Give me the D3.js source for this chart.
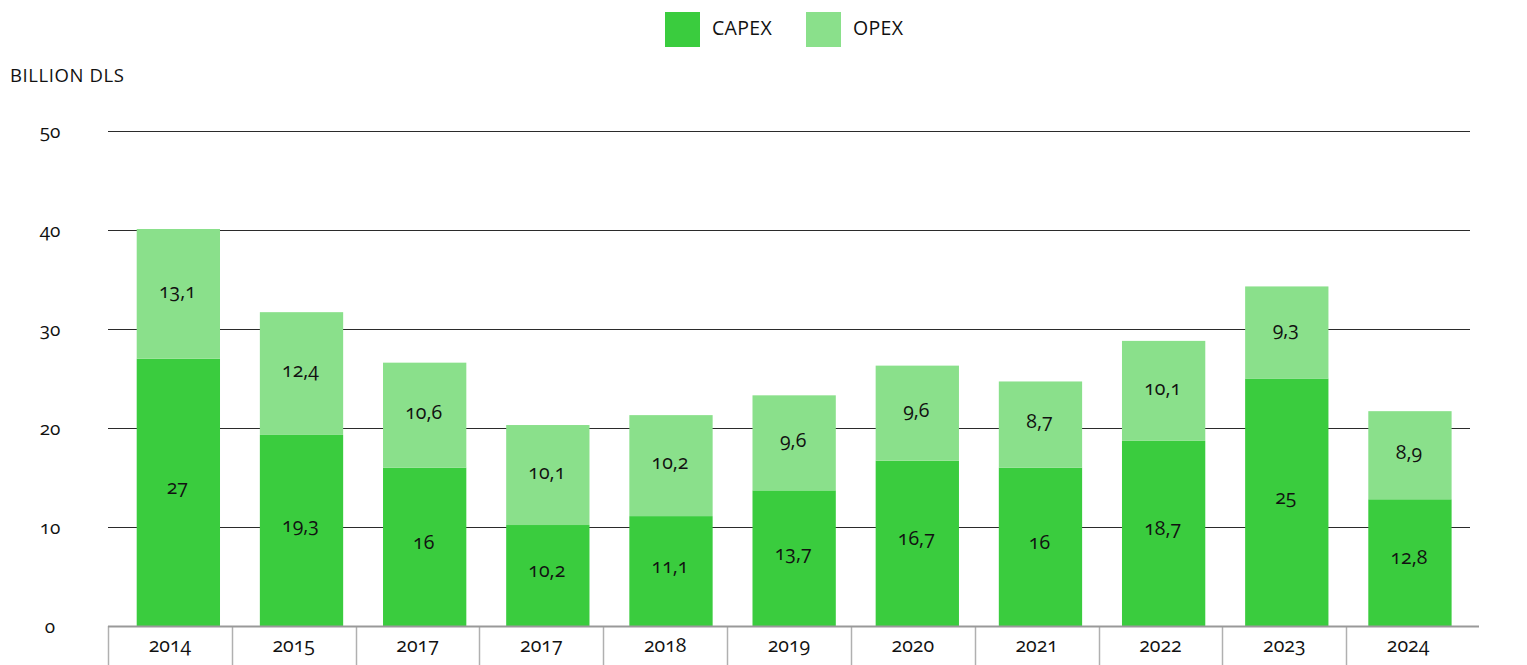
<!DOCTYPE html>
<html>
<head>
<meta charset="utf-8">
<script src="https://cdnjs.cloudflare.com/ajax/libs/d3/7.8.5/d3.min.js"></script>
<style>
	body { margin: 0; background: #fff; }
	svg text { font-family: "Open Sans", Lato, sans-serif; fill: #111; font-variant-numeric: oldstyle-nums; }
</style>
</head>
<body>
<div id="chart"></div>
<script>
const years = ['2014', '2015', '2017', '2017', '2018', '2019', '2020', '2021', '2022', '2023', '2024'];
const capex = [27, 19.3, 16, 10.2, 11.1, 13.7, 16.7, 16, 18.7, 25, 12.8];
const opex = [13.1, 12.4, 10.6, 10.1, 10.2, 9.6, 9.6, 8.7, 10.1, 9.3, 8.9];
const yTicks = [0, 10, 20, 30, 40, 50];
const seriesNames = ['CAPEX', 'OPEX'];

const width = 1527,
	height = 665;

const colors = {
	CAPEX: '#3acc3e',
	OPEX: '#8ae08b'
};

// label nudge per series (px)
const labelShift = {
	CAPEX: -5,
	OPEX: -3
};

const fmt = v => String(v).replace('.', ',');

const svg = d3.select('#chart').append('svg')
	.attr('width', width)
	.attr('height', height);

// bars sit on their own band scale, category cells on another
const x = d3.scaleBand()
	.domain(years.map((d, i) => i))
	.range([136.7, 1451.6])
	.paddingInner(0.3236)
	.paddingOuter(0);

const cells = d3.scaleBand()
	.domain(years.map((d, i) => i))
	.range([108, 1470]);

const y = d3.scaleLinear()
	.domain([0, 50])
	.range([626, 131]);

// gridlines
svg.append('g').selectAll('line')
	.data(yTicks.filter(d => d > 0))
	.join('line')
	.attr('x1', 108)
	.attr('x2', 1470)
	.attr('y1', d => Math.round(y(d)) + 0.5)
	.attr('y2', d => Math.round(y(d)) + 0.5)
	.attr('stroke', '#2b2b2b')
	.attr('stroke-width', 1);

// y tick labels
svg.append('g').selectAll('text')
	.data(yTicks)
	.join('text')
	.attr('x', 50)
	.attr('y', d => y(d))
	.attr('dy', '0.35em')
	.attr('text-anchor', 'middle')
	.style('font-size', '19px')
	.text(d => d);

svg.append('text')
	.attr('x', 10)
	.attr('y', 82)
	.style('font-size', '18.5px')
	.style('letter-spacing', '0.6px')
	.text('BILLION DLS');

// stacked data
const rows = years.map((yr, i) => ({ i, CAPEX: capex[i], OPEX: opex[i] }));
const stacked = d3.stack().keys(seriesNames)(rows);

const layer = svg.append('g').selectAll('g')
	.data(stacked)
	.join('g')
	.attr('fill', d => colors[d.key]);

layer.selectAll('rect')
	.data(d => d)
	.join('rect')
	.attr('x', d => x(d.data.i))
	.attr('width', x.bandwidth())
	.attr('y', d => y(d[1]))
	.attr('height', d => y(d[0]) - y(d[1]));

// value labels
stacked.forEach(s => {
	svg.append('g').selectAll('text')
		.data(s)
		.join('text')
		.attr('x', d => x(d.data.i) + x.bandwidth() / 2 - 1)
		.attr('y', d => (y(d[0]) + y(d[1])) / 2 + labelShift[s.key])
		.attr('dy', '0.35em')
		.attr('text-anchor', 'middle')
		.style('font-size', '19.5px')
		.text(d => fmt(d.data[s.key]));
});

// x axis with cell separators
const axisG = svg.append('g');
axisG.selectAll('line.sep')
	.data(years.map((d, i) => i))
	.join('line')
	.attr('class', 'sep')
	.attr('x1', i => Math.round(cells(i)) + 0.5)
	.attr('x2', i => Math.round(cells(i)) + 0.5)
	.attr('y1', 626)
	.attr('y2', height)
	.attr('stroke', '#b0b0b0')
	.attr('stroke-width', 1.5);

axisG.append('line')
	.attr('x1', 108)
	.attr('x2', 1479)
	.attr('y1', 626.5)
	.attr('y2', 626.5)
	.attr('stroke', '#999')
	.attr('stroke-width', 2);

axisG.selectAll('text')
	.data(years)
	.join('text')
	.attr('x', (d, i) => cells(i) + cells.bandwidth() / 2)
	.attr('y', 645)
	.attr('dy', '0.35em')
	.attr('text-anchor', 'middle')
	.style('font-size', '19.5px')
	.text(d => d);

// legend
const legendPos = [665, 806];
const legend = svg.append('g').selectAll('g')
	.data(seriesNames)
	.join('g')
	.attr('transform', (d, i) => `translate(${legendPos[i]}, 12)`);

legend.append('rect')
	.attr('width', 35)
	.attr('height', 35)
	.attr('fill', d => colors[d]);

legend.append('text')
	.attr('x', 47)
	.attr('y', 16)
	.attr('dy', '0.35em')
	.style('font-size', '19.5px')
	.style('letter-spacing', '0.3px')
	.text(d => d);
</script>
</body>
</html>
